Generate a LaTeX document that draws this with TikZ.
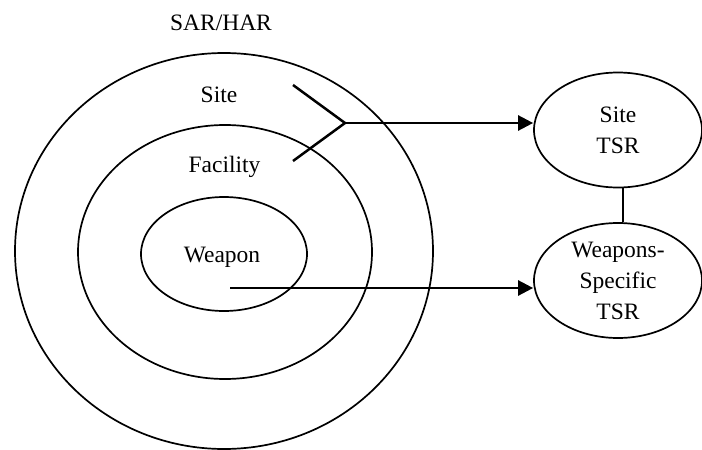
\documentclass[tikz,border=0pt]{standalone}
\usepackage{fontspec}
\setmainfont{Liberation Serif}
\usetikzlibrary{shapes.geometric,arrows.meta}
\begin{document}
\begin{tikzpicture}[x=1pt,y=-1pt,
  ring/.style={line width=1.7pt},
  label/.style={font=\fontsize{23.5}{31}\selectfont, inner sep=0pt, anchor=base},
  tsr/.style={draw, ellipse, line width=1.7pt, inner sep=0pt,
    minimum width=168pt, minimum height=115pt, align=center,
    font=\fontsize{23.5}{31}\selectfont},
  link/.style={line width=2.5pt},
  feed/.style={line width=2.5pt, -{Triangle[length=15pt,width=15pt]}}]
  \useasboundingbox (0,0) rectangle (702,450);

  % concentric zones
  \draw[ring] (224,251) ellipse [x radius=209, y radius=198];
  \draw[ring] (225,252) ellipse [x radius=147, y radius=127];
  \draw[ring] (224,254) ellipse [x radius=83, y radius=57];

  \node[label] (sar) at (221,30) {SAR/HAR};
  \node[label] (site) at (219,102) {Site};
  \node[label] (fac) at (224.5,172) {Facility};
  \node[label] (wpn) at (222,262) {Weapon};

  % safety reports
  \node[tsr] (stsr) at (618,130) {Site\\TSR};
  \node[tsr] (wtsr) at (618,280.5) {Weapons-\\Specific\\TSR};

  % connectors
  \coordinate (a) at (293,85);
  \coordinate (b) at (293,161);
  \coordinate (j) at (345,123);
  \coordinate (w) at (230,288);
  \draw[link, line join=miter] (a) -- (j) -- (b);
  \draw[feed] (j) -- (j -| stsr.west);
  \draw[feed] (w) -- (w -| wtsr.west);
  \draw[line width=1.7pt] ([xshift=5pt]stsr.south) -- ([xshift=5pt]wtsr.north);
\end{tikzpicture}
\end{document}
